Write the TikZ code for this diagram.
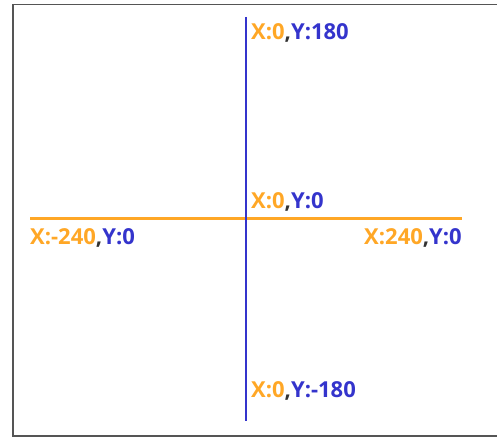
\documentclass[tikz,border=0pt]{standalone}
\usepackage{fontspec}
\setmainfont{Open Sans}
\definecolor{axorange}{HTML}{FFA726}
\definecolor{axblue}{HTML}{3434CC}
\definecolor{axdark}{HTML}{333333}
\definecolor{framegray}{HTML}{555555}
\usetikzlibrary{positioning}
\newcommand{\xypair}[2]{{\color{axorange}X:#1}{\color{axdark},}{\color{axblue}Y:#2}}

\begin{document}
\begin{tikzpicture}[
  x=1pt, y=-1pt,
  frame/.style={draw=framegray, line width=1.3pt},
  xaxis/.style={draw=axorange, line width=2.4pt},
  yaxis/.style={draw=axblue, line width=2.4pt},
  lbl/.style={inner sep=0pt, font=\fontsize{22}{25}\selectfont\bfseries}
]
\useasboundingbox (0,0) rectangle (497,438);

% Frame (right side runs off the picture)
\draw[frame] (505,4.5) -- (13,4.5) -- (13,436) -- (505,436);

% Axes
\coordinate (left) at (30,218.5);
\coordinate (right) at (462,218.5);
\coordinate (top) at (246,17);
\coordinate (bottom) at (246,421);
\draw[xaxis] (left) -- (right);
\draw[yaxis] (top) -- (bottom);

% Labels
\node[lbl, anchor=base west] (ltop) at (251,40) {\xypair{0}{180}};
\node[lbl, anchor=base west] (lorigin) at (251,208) {\xypair{0}{0}};
\node[lbl, anchor=base west] (lleft) at (30,244) {\xypair{-240}{0}};
\node[lbl, anchor=base east] (lright) at (462,244) {\xypair{240}{0}};
\node[lbl, anchor=base west] (lbottom) at (251,397) {\xypair{0}{-180}};

\end{tikzpicture}
\end{document}
